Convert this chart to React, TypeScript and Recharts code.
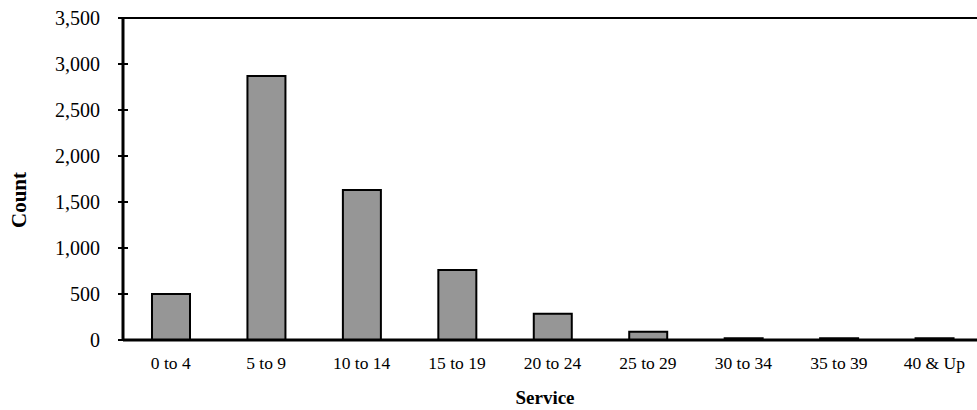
import React from 'react';
import { BarChart, Bar, XAxis, YAxis, ReferenceLine } from 'recharts';

const categories = ['0 to 4', '5 to 9', '10 to 14', '15 to 19', '20 to 24', '25 to 29', '30 to 34', '35 to 39', '40 & Up'];
const counts = [500, 2870, 1630, 760, 285, 90, 20, 20, 20];
const yTicks = [0, 500, 1000, 1500, 2000, 2500, 3000, 3500];

const data = categories.map((c, i) => ({ service: c, count: counts[i] }));

const FONT = '"Liberation Serif", "Times New Roman", serif';

const fmt = (v: number) => v.toLocaleString('en-US');

const YTick = (props: any) => {
  const { x, y, payload } = props;
  return (
    <g>
      <line x1={x - 5} x2={x + 5} y1={y} y2={y} stroke="#000" strokeWidth={2} />
      <text x={x - 23} y={y} dy="0.35em" textAnchor="end" fontFamily={FONT} fontSize={20} fill="#000">
        {fmt(payload.value)}
      </text>
    </g>
  );
};

const XTick = (props: any) => {
  const { x, y, payload } = props;
  return (
    <text x={x} y={y + 23} dy="0.35em" textAnchor="middle" fontFamily={FONT} fontSize={17.5} fill="#000">
      {payload.value}
    </text>
  );
};

export default function App() {
  return (
    <div style={{ position: 'absolute', left: 0, top: 0, width: 977, height: 410, overflow: 'hidden', background: '#fff' }}>
      <BarChart
        width={982}
        height={410}
        data={data}
        margin={{ top: 18, right: 0, bottom: 0, left: 0 }}
        barCategoryGap={0}
      >
        <XAxis
          dataKey="service"
          tick={<XTick />}
          tickLine={false}
          tickSize={0}
          tickMargin={0}
          axisLine={{ stroke: '#000', strokeWidth: 3 }}
          interval={0}
          height={70}
        />
        <YAxis
          width={123}
          domain={[0, 3500]}
          ticks={yTicks}
          tick={<YTick />}
          tickLine={false}
          tickSize={0}
          tickMargin={0}
          axisLine={{ stroke: '#000', strokeWidth: 3 }}
          interval={0}
        />
        <ReferenceLine y={3500} stroke="#000" strokeWidth={2} />
        <Bar dataKey="count" fill="#969696" stroke="#000" strokeWidth={2} barSize={38} isAnimationActive={false} />
        <text x={545} y={400} textAnchor="middle" dominantBaseline="middle" fontFamily={FONT} fontSize={19} fontWeight="bold" fill="#000">
          Service
        </text>
        <text
          x={21}
          y={200}
          textAnchor="middle"
          dominantBaseline="middle"
          fontFamily={FONT}
          fontSize={21}
          fontWeight="bold"
          fill="#000"
          transform="rotate(-90 21 200)"
        >
          Count
        </text>
      </BarChart>
    </div>
  );
}
